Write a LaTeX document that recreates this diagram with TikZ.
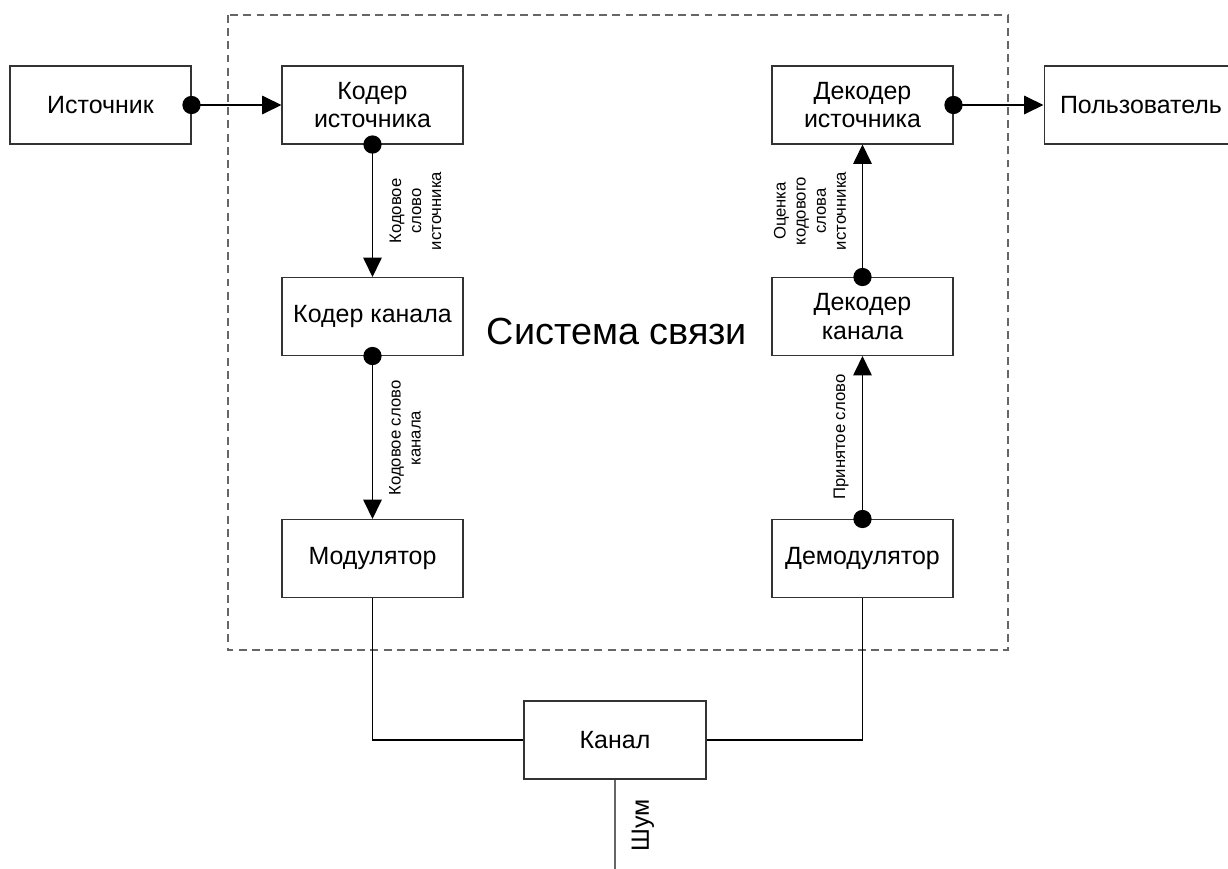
\documentclass[tikz,border=0pt]{standalone}
\usepackage{fontspec}
\setmainfont{Liberation Sans}
\usepackage{tikz}
\usetikzlibrary{arrows.meta}

\begin{document}
\begin{tikzpicture}[x=0.02cm, y=-0.02cm, >={Triangle[length=11pt, width=10.5pt]},
    blok/.style={draw=black!80, line width=0.6pt, minimum width=3.62cm, minimum height=1.56cm,
        align=center, inner sep=0pt, font=\fontsize{14.2}{16}\selectfont},
    svyaz/.style={line width=0.8pt},
    podpis/.style={rotate=90, align=center, inner sep=0pt, font=\fontsize{9.5}{11.4}\selectfont}]
    \useasboundingbox (0,0) rectangle (1228,869);

    % 1. Рамка системы связи
    \draw[dashed, dash pattern=on 4.5pt off 3pt, black!60, line width=0.6pt] (228,15) rectangle (1008,650);
    \node[font=\fontsize{21.5}{24}\selectfont] (sistema) at (617,331) {Система связи};

    % 2. Блоки
    \node[blok] (src) at (100.5,105) {Источник};
    \node[blok] (srcenc) at (372.5,105) {Кодер\\источника};
    \node[blok] (chenc) at (372.5,316.5) {Кодер канала};
    \node[blok] (mod) at (372.5,558.5) {Модулятор};
    \node[blok] (srcdec) at (862.5,105) {Декодер\\источника};
    \node[blok] (chdec) at (862.5,316.5) {Декодер\\канала};
    \node[blok] (demod) at (862.5,558.5) {Демодулятор};
    \node[blok, minimum width=3.88cm] (user) at (1141,105) {Пользователь};
    \node[blok, minimum width=3.64cm] (kanal) at (615,740) {Канал};
    \coordinate (shumkon) at (615,869);

    % 3. Связи
    \draw[svyaz, ->] (src.east) -- (srcenc.west);
    \draw[svyaz, ->] (srcenc.south) -- (chenc.north);
    \draw[svyaz, ->] (chenc.south) -- (mod.north);
    \draw[svyaz] (mod.south) |- (kanal.west);
    \draw[svyaz] (demod.south) |- (kanal.east);
    \draw[svyaz, ->] (demod.north) -- (chdec.south);
    \draw[svyaz, ->] (chdec.north) -- (srcdec.south);
    \draw[svyaz, ->] (srcdec.east) -- (user.west);
    \draw[black!60, line width=0.7pt] (kanal.south) -- (shumkon);

    % 4. Точки выходов
    \foreach \t in {src.east, srcenc.south, chenc.south, srcdec.east, chdec.north, demod.north}
        \fill (\t) circle[radius=5.2pt];

    % 5. Подписи
    \node[podpis] (p1) at (415.5,211) {Кодовое\\слово\\источника};
    \node[podpis] (p2) at (405,438) {Кодовое слово\\канала};
    \node[podpis] (p3) at (810,211) {Оценка\\кодового\\слова\\источника};
    \node[podpis] (p4) at (841,437) {Принятое слово};
    \node[rotate=90, inner sep=0pt, font=\fontsize{14.2}{16}\selectfont] (shum) at (643,825) {Шум};
\end{tikzpicture}
\end{document}
